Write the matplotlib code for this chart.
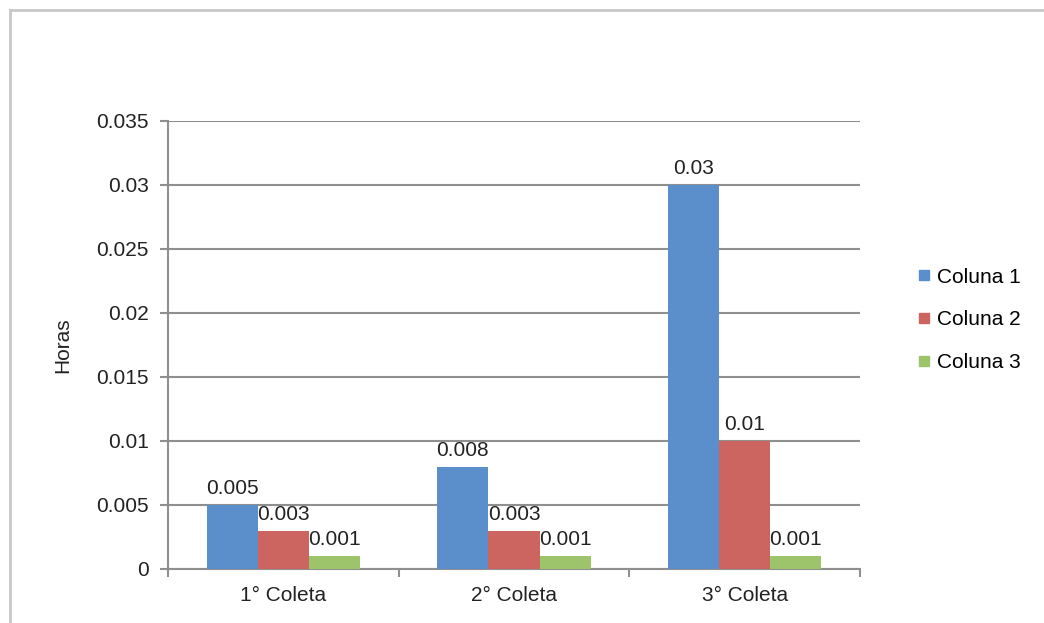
import numpy as np
import matplotlib.pyplot as plt
from matplotlib.lines import Line2D

# Data
categories = ['1° Coleta', '2° Coleta', '3° Coleta']
series_names = ['Coluna 1', 'Coluna 2', 'Coluna 3']
coluna_1 = [0.005, 0.008, 0.03]
coluna_2 = [0.003, 0.003, 0.01]
coluna_3 = [0.001, 0.001, 0.001]
y_ticks = [0, 0.005, 0.01, 0.015, 0.02, 0.025, 0.03, 0.035]
y_tick_labels = ['0', '0.005', '0.01', '0.015', '0.02', '0.025', '0.03', '0.035']

colors = ['#5a8fcb', '#cc645f', '#9dc36b']
grid_color = '#8f8f8f'

plt.rcParams['font.family'] = ['Liberation Sans', 'DejaVu Sans']
plt.rcParams['font.size'] = 15

fig = plt.figure(figsize=(10.44, 6.23), dpi=100)
ax = fig.add_axes([168 / 1044, 54 / 623, 692 / 1044, 448 / 623])

x = np.arange(len(categories))
bar_w = 0.222
all_series = [coluna_1, coluna_2, coluna_3]
for i, (vals, name, c) in enumerate(zip(all_series, series_names, colors)):
    pos = x + (i - 1) * bar_w
    ax.bar(pos, vals, width=bar_w, color=c, label=name, zorder=3)
    for xp, v in zip(pos, vals):
        ax.annotate('%g' % v, (xp, v), xytext=(0, 5), textcoords='offset points',
                    ha='center', va='bottom', fontsize=15, color='#222222', zorder=4)

ax.set_xlim(-0.5, 2.5)
ax.set_ylim(0, 0.035)
ax.set_yticks(y_ticks)
ax.set_yticklabels(y_tick_labels)
ax.yaxis.grid(True, color=grid_color, linewidth=1.5, zorder=0)
ax.set_axisbelow(True)

# category boundary ticks + labels at centers
ax.set_xticks([-0.5, 0.5, 1.5, 2.5])
ax.set_xticklabels([])
ax.set_xticks(x, minor=True)
ax.set_xticklabels(categories, minor=True)
ax.tick_params(axis='x', which='major', length=6, width=1.5, color=grid_color, direction='out')
ax.tick_params(axis='x', which='minor', length=0, pad=12, labelcolor='#222222')
ax.tick_params(axis='y', length=6, width=1.5, color=grid_color, pad=8, labelcolor='#222222')

for s in ['top', 'right']:
    ax.spines[s].set_visible(False)
for s in ['left', 'bottom']:
    ax.spines[s].set_color(grid_color)
    ax.spines[s].set_linewidth(1.5)

ax.set_ylabel('Horas', fontsize=15, color='#222222', labelpad=17)

# legend
handles = [Line2D([], [], marker='s', linestyle='none', markersize=7.5,
                  markerfacecolor=c, markeredgecolor=c) for c in colors]
fig.legend(handles, series_names, loc='center left', bbox_to_anchor=(893 / 1044, 1 - 320 / 623),
           frameon=False, fontsize=15, handletextpad=0.0, labelspacing=1.15, handlelength=1.2)

# outer frame (top and left edges visible)
fig.add_artist(Line2D([10 / 1044, 1.0], [1 - 10 / 623, 1 - 10 / 623], color='#c8c8c8', linewidth=2))
fig.add_artist(Line2D([10 / 1044, 10 / 1044], [0.0, 1 - 10 / 623], color='#c8c8c8', linewidth=2))

fig.savefig('out.png', dpi=100)
